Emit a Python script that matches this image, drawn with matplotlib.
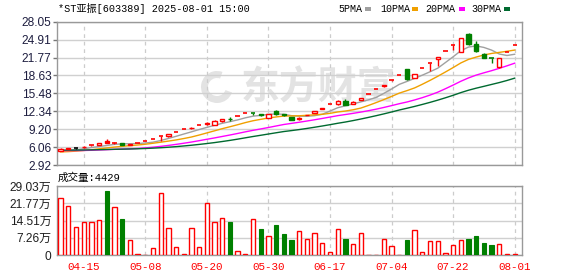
import numpy as np
import pandas as pd
import matplotlib
matplotlib.use("Agg")
import matplotlib.pyplot as plt
from matplotlib.patches import Rectangle, Wedge
from matplotlib.transforms import IdentityTransform

plt.rcParams['font.family'] = ['Liberation Sans', 'Noto Sans CJK SC']

# ---------------- data ----------------
prior_close = [5.62, 5.68, 5.70, 5.66, 5.72, 5.75, 5.70, 5.68, 5.74, 5.71,
               5.69, 5.73, 5.76, 5.70, 5.66, 5.62, 5.68, 5.65, 5.60, 5.55,
               5.28, 5.02, 4.95, 5.05, 5.10, 5.18, 5.25, 5.20, 5.30]

open_ = [5.45, 5.76, 5.82, 6.04, 6.36, 6.40, 7.05, 6.78, 6.72, 6.45,
         6.85, 7.19, 7.55, 7.93, 7.98, 8.75, 9.19, 9.40, 9.95, 10.15,
         10.00, 10.55, 11.05, 11.48, 12.05, 11.98, 11.90, 11.15, 12.45, 11.80,
         11.30, 10.90, 11.70, 12.10, 12.75, 13.62, 13.65, 14.20, 13.65, 14.35,
         15.44, 16.21, 16.70, 17.87, 18.76, 19.70, 18.20, 19.85, 20.84, 21.50,
         22.97, 23.95, 22.80, 25.90, 24.10, 22.40, 21.62, 20.07, 22.80, 23.94]
high = [5.82, 5.95, 5.98, 6.25, 6.40, 6.72, 7.50, 6.95, 6.85, 6.58,
        6.85, 7.19, 7.55, 7.93, 8.33, 8.75, 9.19, 9.65, 9.95, 10.45,
        10.73, 11.05, 11.30, 11.48, 12.05, 12.05, 11.95, 11.90, 12.50, 11.95,
        11.35, 11.30, 11.76, 12.35, 12.97, 13.62, 14.30, 14.45, 14.10, 14.75,
        15.44, 16.21, 17.02, 17.87, 18.76, 19.70, 18.90, 19.85, 20.84, 21.88,
        22.97, 23.95, 25.14, 26.10, 24.65, 22.60, 21.70, 21.75, 22.80, 23.94]
low = [5.40, 5.65, 5.70, 5.92, 6.30, 6.38, 6.72, 6.62, 6.40, 6.38,
       6.85, 7.19, 7.55, 7.20, 7.90, 8.75, 9.19, 9.30, 9.95, 9.90,
       9.95, 10.45, 10.70, 11.48, 12.05, 11.75, 11.60, 11.10, 11.75, 11.60,
       10.75, 10.80, 11.65, 12.00, 12.70, 13.62, 13.50, 13.40, 13.55, 14.30,
       15.44, 16.21, 16.60, 17.60, 18.76, 17.90, 18.10, 19.85, 19.40, 20.30,
       22.97, 23.10, 22.70, 24.00, 22.80, 21.60, 20.72, 20.00, 22.80, 23.94]
close = [5.80, 5.82, 5.82, 6.08, 6.38, 6.70, 6.75, 6.80, 6.50, 6.52,
         6.85, 7.19, 7.55, 7.93, 8.33, 8.75, 9.19, 9.48, 9.95, 10.22,
         10.55, 10.95, 10.93, 11.48, 12.05, 12.00, 11.65, 11.85, 11.80, 11.75,
         10.80, 11.20, 11.76, 12.35, 12.97, 13.62, 14.10, 13.45, 14.05, 14.70,
         15.44, 16.21, 17.02, 17.87, 18.76, 18.00, 18.90, 19.85, 20.84, 21.88,
         22.97, 23.95, 25.14, 24.10, 22.85, 21.65, 21.60, 21.72, 22.80, 23.94]
volume = [23.8, 20.6, 11.6, 13.7, 13.7, 14.6, 26.9, 20.1, 15.0, 6.2,
          0.3, 0.2, 2.8, 25.9, 11.2, 3.2, 0.3, 11.2, 3.2, 21.7,
          13.7, 15.4, 13.9, 1.5, 0.3, 15.0, 10.9, 7.9, 12.6, 8.8,
          6.3, 10.0, 6.7, 9.1, 4.9, 1.1, 10.8, 6.6, 4.5, 9.1,
          0.2, 0.2, 6.6, 3.6, 0.2, 6.3, 10.4, 1.1, 5.9, 5.9,
          0.8, 4.1, 6.3, 6.7, 8.0, 5.0, 4.2, 4.6, 0.3, 0.44]

price_ticks = [2.92, 6.06, 9.20, 12.34, 15.48, 18.63, 21.77, 24.91, 28.05]
vol_ticks = [0, 7.26, 14.51, 21.77, 29.03]
vol_tick_labels = ['0', '7.26万', '14.51万', '21.77万', '29.03万']
date_pos = [3, 11, 19, 27, 35, 43, 51, 59]
date_labels = ['04-15', '05-08', '05-20', '05-30', '06-17', '07-04', '07-22', '08-01']
ma_periods = [5, 10, 20, 30]
ma_names = ['5PMA', '10PMA', '20PMA', '30PMA']
ma_colors = ['#a0a0a0', '#f0a000', '#ff00ff', '#006a30']
title = '*ST亚振[603389] 2025-08-01 15:00'
vol_title = '成交量:4429'
watermark = '东方财富'

# ---------------- figure ----------------
W, H = 578, 276
fig = plt.figure(figsize=(W / 100, H / 100), dpi=100)
ax = fig.add_axes([57 / W, 1 - 165 / H, 465 / W, 143.3 / H])
axv = fig.add_axes([57 / W, 1 - 255 / H, 465 / W, 69 / H])

RED, GREEN, BLACK = '#ff0000', '#008000', '#000000'
n = len(close)
x = np.arange(n)
o = np.array(open_); c = np.array(close); hi = np.array(high); lo = np.array(low)
prev = np.concatenate([[prior_close[-1]], c[:-1]])
bw = 0.56

# watermark (logo ring + text)
wm_col = '#e3e3e3'
logo = Wedge((217, H - 87), 16, 70, 340, width=7, transform=IdentityTransform(),
             facecolor=wm_col, edgecolor='none', zorder=0.5)
ax.add_artist(logo)
ax.text(0.563, 0.535, watermark, transform=ax.transAxes, fontsize=28,
        family=['Noto Sans CJK SC'], fontweight='bold', color=wm_col,
        ha='center', va='center', zorder=0.5)

# moving averages
allc = pd.Series(list(prior_close) + list(close))
for p, col in zip(ma_periods, ma_colors):
    ma = allc.rolling(p).mean().values[len(prior_close):]
    ax.plot(x, ma, color=col, lw=1.0, zorder=2)

# candles
for i in range(n):
    if c[i] > prev[i]:
        col = RED
    elif c[i] < prev[i]:
        col = GREEN
    else:
        col = BLACK
    ax.vlines(x[i], lo[i], hi[i], color=col, lw=1.0, zorder=3)
    if abs(c[i] - o[i]) < 0.04:
        ax.hlines(c[i], x[i] - bw / 2, x[i] + bw / 2, color=col, lw=1.2, zorder=4)
    else:
        face = 'white' if c[i] > o[i] else col
        ax.add_patch(Rectangle((x[i] - bw / 2, min(o[i], c[i])), bw, abs(c[i] - o[i]),
                               facecolor=face, edgecolor=col, lw=1.0, zorder=4))

# volume
for i in range(n):
    if c[i] < o[i]:
        axv.bar(x[i], volume[i], width=bw, color=GREEN, edgecolor=GREEN, lw=0.8, zorder=3)
    else:
        axv.bar(x[i], volume[i], width=bw, color='white', edgecolor=RED, lw=1.0, zorder=3)

for a in (ax, axv):
    a.set_xlim(-0.47, 59.95)
    a.set_xticks(date_pos)
    a.grid(axis='x', color='#cccccc', lw=0.9, linestyle=(0, (3, 3)), zorder=1)
    a.grid(axis='y', color='#d0d0d0', lw=1.0, zorder=1)
    a.set_axisbelow(True)
    for s in a.spines.values():
        s.set_color('#999999')
        s.set_linewidth(1.0)

ax.set_ylim(2.92, 28.05)
ax.set_yticks(price_ticks)
ax.set_yticklabels([f'{t:.2f}' for t in price_ticks])
ax.tick_params(axis='y', length=3, width=1, color='#777777', pad=1,
               labelsize=8.6, labelcolor='#1e1e40')
ax.tick_params(axis='x', length=0, labelbottom=False)

axv.set_ylim(0, 29.03)
axv.set_yticks(vol_ticks)
axv.set_yticklabels(vol_tick_labels)
axv.tick_params(axis='y', length=0, pad=4, labelsize=8.6, labelcolor='#1e1e1e')
axv.set_xticklabels(date_labels, family=['Liberation Mono'], fontsize=7.8, color='#ff0000')
axv.tick_params(axis='x', length=0, pad=5)

# titles and legend
fig.text(58 / W, 1 - 9 / H, title, family=['Liberation Mono', 'Noto Sans CJK SC'],
         fontsize=7.3, va='center', ha='left', color='#000000')
fig.text(58 / W, 1 - 178 / H, vol_title, family=['Liberation Mono', 'Noto Sans CJK SC'],
         fontsize=7.6, va='center', ha='left', color='#000000')
leg_x = [338, 380, 425, 471]
sq_x = [365, 412, 459, 504]
for lx, sx, name, col in zip(leg_x, sq_x, ma_names, ma_colors):
    fig.text(lx / W, 1 - 9 / H, name, family=['Liberation Mono'], fontsize=7.2,
             va='center', ha='left', color='#000000')
    fig.patches.append(Rectangle((sx / W, 1 - 10.5 / H), 6 / W, 3 / H,
                                 transform=fig.transFigure, facecolor=col, edgecolor='none'))

fig.savefig('out.png', dpi=100)
